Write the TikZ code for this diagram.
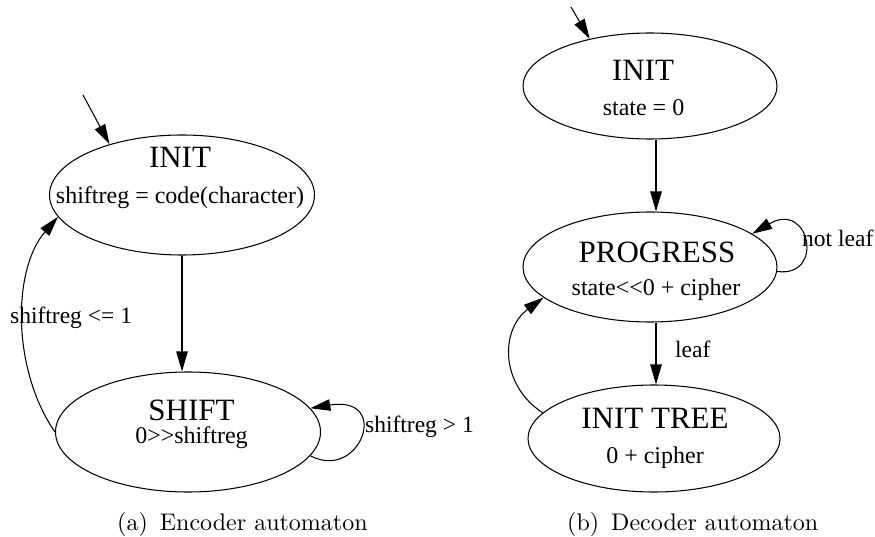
\documentclass[tikz,border=0pt]{standalone}
\usepackage{fontspec}
\usetikzlibrary{arrows.meta,shapes.geometric,calc}
\newfontfamily\nodefont{Liberation Serif}
\newfontfamily\capfont[Extension=.otf]{lmroman10-regular}

\begin{document}
\begin{tikzpicture}[x=1pt,y=-1pt,
  conn/.style={draw, line width=1.05pt, -{Triangle[length=20pt,width=11.5pt]}},
  stateshape/.style={draw, ellipse, line width=1.05pt, inner sep=0pt},
  ttl/.style={font=\nodefont\fontsize{31}{36}\selectfont, anchor=base, inner sep=0pt},
  subtxt/.style={font=\nodefont\fontsize{24}{28}\selectfont, anchor=base, inner sep=0pt},
  lbl/.style={font=\nodefont\fontsize{23.5}{28}\selectfont, anchor=base west, inner sep=0pt},
  captext/.style={font=\capfont\fontsize{24}{28}\selectfont, anchor=base west, inner sep=0pt}]
\useasboundingbox (0,0) rectangle (875,537);

% ---------- Encoder automaton ----------
\node[stateshape, minimum width=265pt, minimum height=120pt] (einit) at (182,195) {};
\node[stateshape, minimum width=265pt, minimum height=120pt] (eshift) at (188,432) {};
\node[ttl] (einitT) at (180,168) {INIT};
\node[subtxt] (einitS) at (180,204) {shiftreg = code(character)};
\node[ttl] (eshiftT) at (191.5,420) {SHIFT};
\node[subtxt] (eshiftS) at (191.5,443) {0>>shiftreg};

\coordinate (estart) at (83,95);
\draw[conn] (estart) -- (einit.145);
\draw[conn] (einit.south) -- (einit.south |- eshift.north);
\draw[conn] (eshift.west) .. controls (12,370) and (12,270) .. (einit.190.6);
\draw[conn] (eshift.-11) .. controls (360,482) and (392,395) .. (eshift.11);

\node[lbl] (lblle) at (10,323) {shiftreg <= 1};
\node[lbl] (lblgt) at (365,432) {shiftreg > 1};
\node[captext] (capa) at (117,530) {(a)\hspace{12pt}Encoder automaton};

% ---------- Decoder automaton ----------
\node[stateshape, minimum width=254pt, minimum height=106pt] (dinit) at (650,86) {};
\node[stateshape, minimum width=254pt, minimum height=110pt] (dprog) at (650,267) {};
\node[stateshape, minimum width=252pt, minimum height=107pt] (dtree) at (654,438.5) {};
\node[ttl] (dinitT) at (643,81) {INIT};
\node[subtxt] (dinitS) at (643.5,116) {state = 0};
\node[ttl] (dprogT) at (657,262) {PROGRESS};
\node[subtxt] (dprogS) at (656,295) {state<<0 + cipher};
\node[ttl] (dtreeT) at (655,428) {INIT TREE};
\node[subtxt] (dtreeS) at (655,463) {0 + cipher};

\coordinate (dstart) at (571,7);
\coordinate (dline1) at ($(dinit.south)+(6,0)$);
\coordinate (dline2) at ($(dprog.south)+(6,0)$);
\draw[conn] (dstart) -- (dinit.142);
\draw[conn] (dline1) -- (dline1 |- dprog.north);
\draw[conn] (dline2) -- (dline2 |- dtree.north);
\draw[conn] (dprog.-2) .. controls (825,278) and (810,200) .. (dprog.18);
\draw[conn] (dtree.167.6) .. controls (500,385) and (500,330) .. (dprog.196.75);

\node[lbl] (lblnl) at (802,247) {not leaf};
\node[lbl] (lblleaf) at (675,357) {leaf};
\node[captext] (capb) at (567,530) {(b)\hspace{12pt}Decoder automaton};
\end{tikzpicture}
\end{document}
